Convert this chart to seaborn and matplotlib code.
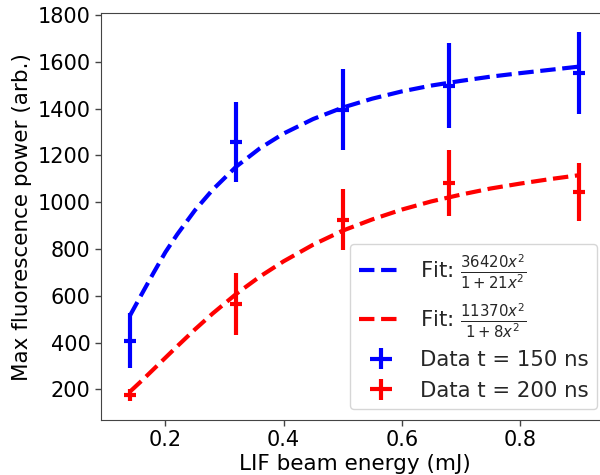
import matplotlib
matplotlib.use("Agg")
import matplotlib.pyplot as plt
import seaborn as sns
import numpy as np

# Measured LIF data
energy = [0.14, 0.32, 0.50, 0.68, 0.90]
energy_err = [0.01, 0.01, 0.01, 0.01, 0.01]

power_150 = [408, 1258, 1394, 1498, 1553]
err_150 = [117, 170, 173, 181, 175]

power_200 = [175, 565, 924, 1083, 1043]
err_200 = [26, 133, 130, 141, 125]

# Saturation fit curves, sampled along the energy axis
fit_x = [0.14, 0.16, 0.18, 0.20, 0.22, 0.25, 0.28, 0.32, 0.36, 0.40,
         0.45, 0.50, 0.55, 0.60, 0.65, 0.70, 0.75, 0.80, 0.85, 0.90]
fit_150 = [515, 607, 698, 786, 862, 965, 1053, 1152, 1230, 1293,
           1355, 1404, 1442, 1473, 1498, 1518, 1536, 1551, 1565, 1579]
fit_200 = [190, 237, 286, 335, 384, 456, 524, 608, 682, 747,
           818, 878, 926, 968, 1003, 1032, 1058, 1079, 1098, 1115]

label_fit_150 = r"Fit: $\frac{36420x^2}{1+21x^2}$"
label_fit_200 = r"Fit: $\frac{11370x^2}{1+8x^2}$"
label_data_150 = "Data t = 150 ns"
label_data_200 = "Data t = 200 ns"

sns.set_style("ticks")
plt.rcParams["font.family"] = ["DejaVu Sans"]
plt.rcParams["axes.edgecolor"] = "#444444"
plt.rcParams["xtick.color"] = "#444444"
plt.rcParams["ytick.color"] = "#444444"
plt.rcParams["xtick.labelcolor"] = "black"
plt.rcParams["ytick.labelcolor"] = "black"

fig = plt.figure(figsize=(6.0, 4.75), dpi=100)
ax = fig.add_axes([0.1683, 0.1158, 0.845, 0.8558])

sns.lineplot(x=fit_x, y=fit_150, ax=ax, color="blue", linestyle="--",
             linewidth=3, label=label_fit_150)
sns.lineplot(x=fit_x, y=fit_200, ax=ax, color="red", linestyle="--",
             linewidth=3, label=label_fit_200)

ax.errorbar(energy, power_150, yerr=err_150, xerr=energy_err, fmt="none",
            ecolor="blue", elinewidth=3, capsize=0, label=label_data_150)
ax.errorbar(energy, power_200, yerr=err_200, xerr=energy_err, fmt="none",
            ecolor="red", elinewidth=3, capsize=0, label=label_data_200)

ax.set_xlim(0.091, 0.949)
ax.set_ylim(69, 1806)
ax.set_yticks([200, 400, 600, 800, 1000, 1200, 1400, 1600, 1800])
ax.set_xticks([0.2, 0.4, 0.6, 0.8])

ax.set_xlabel("LIF beam energy (mJ)", fontsize=15.5, color="black",
              labelpad=2.5)
ax.set_ylabel("Max fluorescence power (arb.)", fontsize=15.5, color="black")
ax.tick_params(axis="both", labelsize=15, length=4, width=1)

ax.legend(loc="lower right", fontsize=15.3, frameon=True, framealpha=0.8,
          handlelength=2.1)

fig.savefig("out.png", dpi=100)
